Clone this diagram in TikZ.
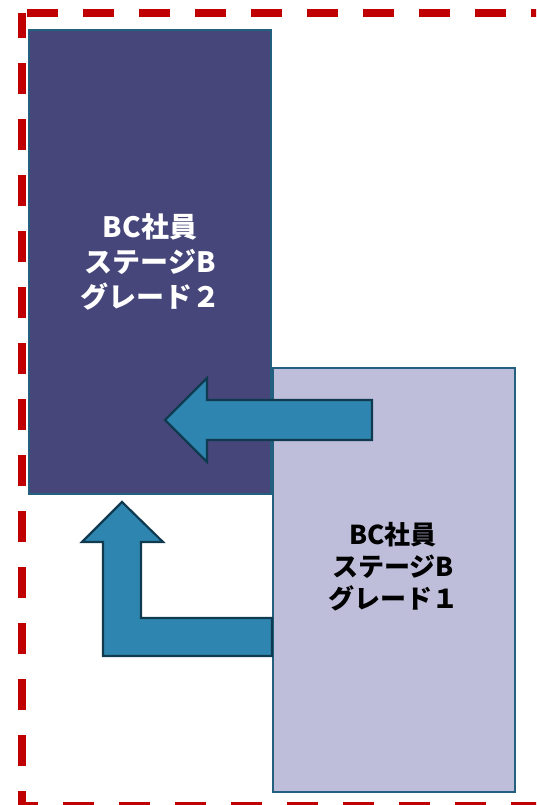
\documentclass[tikz,border=0pt]{standalone}
\usepackage{fontspec}
\newfontfamily\jp{Noto Sans CJK JP}
\definecolor{darkfill}{HTML}{46467A}
\definecolor{lightfill}{HTML}{BEBEDA}
\definecolor{boxline}{HTML}{22607E}
\definecolor{arrowfill}{HTML}{2E86B0}
\definecolor{arrowline}{HTML}{0F3A50}
\definecolor{framered}{HTML}{C00000}
\begin{document}
\begin{tikzpicture}[x=1pt,y=-1pt,
  gradebox/.style={draw=boxline,line width=2pt,inner sep=0pt,anchor=north west},
  gradetext/.style={align=center,inner sep=0pt},
  blockarrow/.style={fill=arrowfill,draw=arrowline,line width=2.2pt,line join=miter}]
\useasboundingbox (0,0) rectangle (536,805);
\begin{scope}
\clip (0,0) rectangle (536,805);
\draw[framered,line width=8pt,dash pattern=on 31pt off 25pt,dash phase=6pt] (22,13) rectangle (560,806);
\end{scope}
\node[gradebox,fill=darkfill,minimum width=242pt,minimum height=464pt] (g2) at (28,29) {};
\node[gradetext,text=white,font=\jp\bfseries\fontsize{28}{35}\selectfont] (t2) at (g2.center) {BC社員\\ステージB\\グレード２};
\node[gradebox,fill=lightfill,minimum width=242pt,minimum height=424pt] (g1) at (272,367) {};
\node[gradetext,text=black,font=\jp\bfseries\fontsize{26}{32}\selectfont] (t1) at (393,567) {BC社員\\ステージB\\グレード１};
\coordinate (bentend) at (g1.west |- 0,637);
\draw[blockarrow] (122,502) -- (163,542) -- (141,542) -- (141,618) -- (bentend |- 0,618)
  -- (bentend |- 0,656) -- (103,656) -- (103,542) -- (82,542) -- cycle;
\draw[blockarrow] (165,420) -- (207,378) -- (207,400) -- (372,400) -- (372,440) -- (207,440) -- (207,462) -- cycle;
\end{tikzpicture}
\end{document}
